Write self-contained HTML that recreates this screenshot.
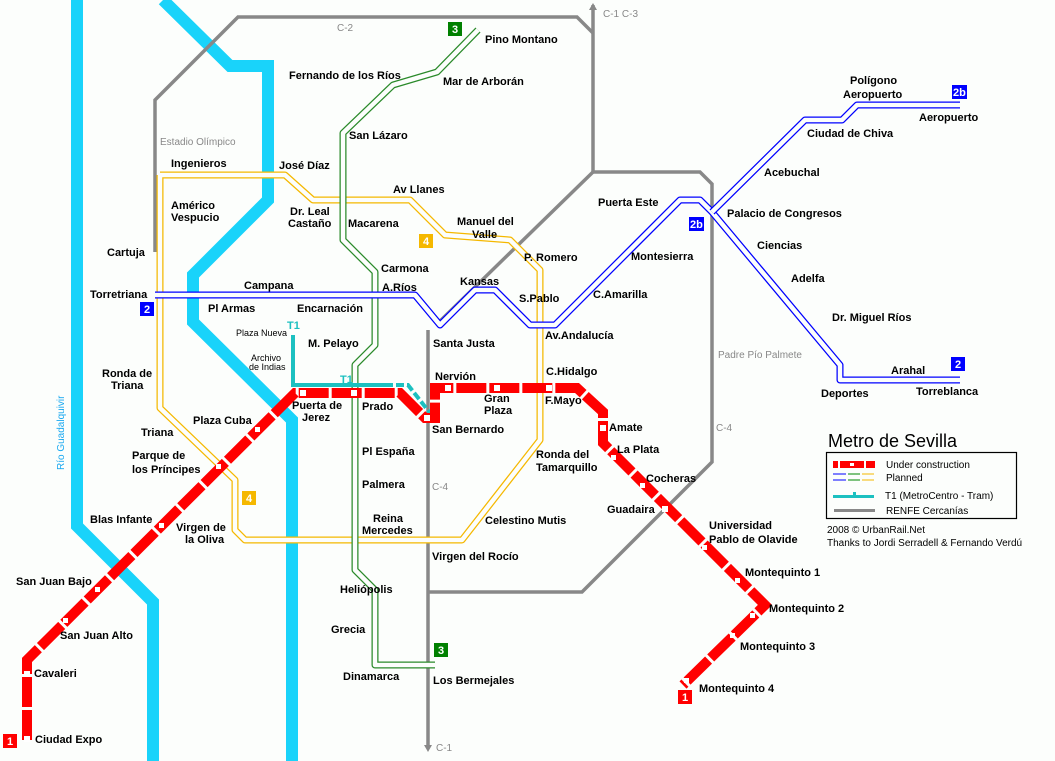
<!DOCTYPE html>
<html><head><meta charset="utf-8"><style>
html,body{margin:0;padding:0;background:#fcfefc;}
svg{display:block;}
text{font-family:"Liberation Sans",sans-serif;font-size:11px;font-weight:bold;fill:#000;}
.g{font-weight:normal;fill:#888;font-size:10px;}
.n{font-weight:normal;font-size:9px;}
.l{font-weight:normal;font-size:10px;}
.w{fill:#fff;}
</style></head><body>
<svg width="1055" height="761" viewBox="0 0 1055 761" xmlns="http://www.w3.org/2000/svg">
<rect width="1055" height="761" fill="#fcfefc"/>
<g fill="none" stroke="#19d3fa" stroke-width="12" stroke-linejoin="miter">
<polyline points="77,0 77,526 153,602 153,761"/>
<polyline points="163,0 230,66 268,66 268,200 193,275 193,322 292,420 292,761"/>
</g>
<text x="64" y="470" transform="rotate(-90 64 470)" style="font-weight:normal;fill:#19a8f0;font-size:10px">Río Guadalquivir</text>
<g fill="none" stroke="#888" stroke-width="3.5">
<polyline points="155,252 155,100 238,17 577,17 593,33"/>
<polyline points="593,5 593,172 700,172 712,184 712,462 582,592 428,592"/>
<polyline points="593,172 437,324"/>
<polyline points="428,330 428,748"/>
</g>
<path d="M593,3 l-4,7 h8z M428,752 l-4,-7 h8z" fill="#888"/>
<text class="g" x="337" y="31">C-2</text>
<text class="g" x="603" y="17">C-1   C-3</text>
<text class="g" x="160" y="145">Estadio Olímpico</text>
<text class="g" x="718" y="358">Padre Pío Palmete</text>
<text class="g" x="716" y="431">C-4</text>
<text class="g" x="432" y="490">C-4</text>
<text class="g" x="436" y="751">C-1</text>
<g fill="none" stroke-linejoin="round">
<polyline stroke="#f5b800" stroke-width="7" points="160,175 285,175 313,200 410,200 445,235 510,240 540,270 540,440 462,540 245,540 235,530 235,480 160,408 160,175"/>
<polyline stroke="#fcfefc" stroke-width="4.5" points="160,175 285,175 313,200 410,200 445,235 510,240 540,270 540,440 462,540 245,540 235,530 235,480 160,408 160,175"/>
<polyline stroke="#2a8a2a" stroke-width="7" points="478,30 437,72 393,85 343,133 343,240 375,272 375,345 355,365 355,570 375,590 375,665 435,665"/>
<polyline stroke="#fcfefc" stroke-width="4.5" points="478,30 437,72 393,85 343,133 343,240 375,272 375,345 355,365 355,570 375,590 375,665 435,665"/>
<polyline stroke="#0000ff" stroke-width="7" points="155,295 415,295 440,325 475,290 495,290 530,325 555,325 680,200 700,200 712,212 840,365 840,380 960,380"/>
<polyline stroke="#fcfefc" stroke-width="4.5" points="155,295 415,295 440,325 475,290 495,290 530,325 555,325 680,200 700,200 712,212 840,365 840,380 960,380"/>
<polyline stroke="#0000ff" stroke-width="7" points="712,212 805,120 842,120 857,105 960,105"/>
<polyline stroke="#fcfefc" stroke-width="4.5" points="712,212 805,120 842,120 857,105 960,105"/>
</g>
<g fill="none" stroke="#1cc0c0" stroke-width="4">
<polyline points="293,335 293,385 385,385"/>
<polyline points="385,385 408,385 430,413" stroke-dasharray="8,3"/>
</g>
<text x="287" y="329" style="fill:#1cc0c0">T1</text>
<text x="340" y="383" style="fill:#1cc0c0">T1</text>
<polyline fill="none" stroke="#f00" stroke-width="10" stroke-dasharray="30,3" points="27,740 27,660 295,393 400,393 425,418 435,418 435,388 577,388 603,412 603,443 765,605 683,685"/>
<g fill="#fff">
<rect x="24" y="671" width="6" height="6"/><rect x="24" y="736" width="6" height="6"/>
<rect x="300" y="390" width="6" height="6"/><rect x="351" y="390" width="6" height="6"/>
<rect x="424" y="415" width="6" height="6"/><rect x="445" y="385" width="6" height="6"/>
<rect x="494" y="385" width="6" height="6"/><rect x="546" y="385" width="6" height="6"/>
<rect x="600" y="425" width="6" height="6"/><rect x="611" y="455" width="5" height="5"/>
<rect x="640" y="483" width="5" height="5"/><rect x="662" y="506" width="6" height="6"/>
<rect x="702" y="545" width="5" height="5"/><rect x="735" y="578" width="5" height="5"/>
<rect x="750" y="613" width="5" height="5"/><rect x="730" y="633" width="5" height="5"/>
<rect x="684" y="678" width="5" height="5"/><rect x="255" y="427" width="5" height="5"/>
<rect x="216" y="464" width="5" height="5"/><rect x="159" y="523" width="5" height="5"/>
<rect x="95" y="587" width="5" height="5"/><rect x="63" y="618" width="5" height="5"/>
</g>
<text x="485" y="43">Pino Montano</text>
<text x="289" y="79">Fernando de los Ríos</text>
<text x="443" y="85">Mar de Arborán</text>
<text x="349" y="139">San Lázaro</text>
<text x="171" y="167">Ingenieros</text>
<text x="279" y="169">José Díaz</text>
<text x="393" y="193">Av Llanes</text>
<text x="171" y="209">Américo</text><text x="171" y="221">Vespucio</text>
<text x="290" y="215">Dr. Leal</text><text x="288" y="227">Castaño</text>
<text x="348" y="227">Macarena</text>
<text x="457" y="225">Manuel del</text><text x="472" y="238">Valle</text>
<text x="107" y="256">Cartuja</text>
<text x="524" y="261">P. Romero</text>
<text x="381" y="272">Carmona</text>
<text x="460" y="285">Kansas</text>
<text x="244" y="289">Campana</text>
<text x="382" y="291">A.Ríos</text>
<text x="90" y="298">Torretriana</text>
<text x="519" y="302">S.Pablo</text>
<text x="208" y="312">Pl Armas</text>
<text x="297" y="312">Encarnación</text>
<text class="n" x="236" y="336">Plaza Nueva</text>
<text x="545" y="339">Av.Andalucía</text>
<text x="433" y="347">Santa Justa</text>
<text x="308" y="347">M. Pelayo</text>
<text class="n" x="251" y="361">Archivo</text><text class="n" x="249" y="370">de Indias</text>
<text x="102" y="377">Ronda de</text><text x="111" y="389">Triana</text>
<text x="546" y="375">C.Hidalgo</text>
<text x="435" y="380">Nervión</text>
<text x="484" y="402">Gran</text><text x="484" y="414">Plaza</text>
<text x="545" y="404">F.Mayo</text>
<text x="292" y="409">Puerta de</text><text x="302" y="421">Jerez</text>
<text x="362" y="410">Prado</text>
<text x="193" y="424">Plaza Cuba</text>
<text x="609" y="431">Amate</text>
<text x="432" y="433">San Bernardo</text>
<text x="141" y="436">Triana</text>
<text x="617" y="453">La Plata</text>
<text x="362" y="455">Pl España</text>
<text x="132" y="459">Parque de</text><text x="132" y="473">los Príncipes</text>
<text x="536" y="458">Ronda del</text><text x="536" y="471">Tamarquillo</text>
<text x="646" y="482">Cocheras</text>
<text x="362" y="488">Palmera</text>
<text x="607" y="513">Guadaira</text>
<text x="90" y="523">Blas Infante</text>
<text x="176" y="531">Virgen de</text><text x="185" y="543">la Oliva</text>
<text x="373" y="522">Reina</text><text x="362" y="534">Mercedes</text>
<text x="485" y="524">Celestino Mutis</text>
<text x="709" y="529">Universidad</text><text x="709" y="543">Pablo de Olavide</text>
<text x="432" y="560">Virgen del Rocío</text>
<text x="745" y="576">Montequinto  1</text>
<text x="16" y="585">San Juan Bajo</text>
<text x="340" y="593">Heliópolis</text>
<text x="769" y="612">Montequinto  2</text>
<text x="331" y="633">Grecia</text>
<text x="60" y="639">San Juan Alto</text>
<text x="740" y="650">Montequinto  3</text>
<text x="34" y="677">Cavaleri</text>
<text x="343" y="680">Dinamarca</text>
<text x="433" y="684">Los Bermejales</text>
<text x="699" y="692">Montequinto  4</text>
<text x="35" y="743">Ciudad Expo</text>
<text x="850" y="84">Polígono</text><text x="843" y="98">Aeropuerto</text>
<text x="919" y="121">Aeropuerto</text>
<text x="807" y="137">Ciudad de Chiva</text>
<text x="764" y="176">Acebuchal</text>
<text x="598" y="206">Puerta Este</text>
<text x="727" y="217">Palacio de Congresos</text>
<text x="757" y="249">Ciencias</text>
<text x="631" y="260">Montesierra</text>
<text x="791" y="282">Adelfa</text>
<text x="593" y="298">C.Amarilla</text>
<text x="832" y="321">Dr. Miguel Ríos</text>
<text x="891" y="374">Arahal</text>
<text x="821" y="397">Deportes</text>
<text x="916" y="395">Torreblanca</text>
<rect x="448" y="22" width="14" height="14" fill="#008000"/><text class="w" x="452" y="33">3</text>
<rect x="434" y="643" width="14" height="14" fill="#008000"/><text class="w" x="438" y="654">3</text>
<rect x="419" y="234" width="14" height="14" fill="#f5b800"/><text class="w" x="423" y="245">4</text>
<rect x="242" y="491" width="14" height="14" fill="#f5b800"/><text class="w" x="246" y="502">4</text>
<rect x="140" y="302" width="14" height="14" fill="#0000ff"/><text class="w" x="144" y="313">2</text>
<rect x="951" y="357" width="14" height="14" fill="#0000ff"/><text class="w" x="955" y="368">2</text>
<rect x="952" y="85" width="15" height="14" fill="#0000ff"/><text class="w" x="953" y="96">2b</text>
<rect x="689" y="217" width="15" height="14" fill="#0000ff"/><text class="w" x="690" y="228">2b</text>
<rect x="3" y="734" width="14" height="14" fill="#f00"/><text class="w" x="7" y="745">1</text>
<rect x="678" y="690" width="14" height="14" fill="#f00"/><text class="w" x="682" y="701">1</text>
<text x="828" y="447" style="font-weight:normal;font-size:18px">Metro de Sevilla</text>
<rect x="826.5" y="452.5" width="190" height="66" fill="none" stroke="#000" stroke-width="1.2"/>
<rect x="833" y="461" width="42" height="7" fill="#f00"/>
<rect x="838" y="461" width="2" height="7" fill="#fff"/><rect x="864" y="461" width="2" height="7" fill="#fff"/><rect x="850" y="463" width="4" height="3" fill="#fff"/>
<g stroke-width="1"><line x1="833" y1="474" x2="846" y2="474" stroke="#00f"/><line x1="833" y1="480" x2="846" y2="480" stroke="#00f"/>
<line x1="848" y1="474" x2="860" y2="474" stroke="#080"/><line x1="848" y1="480" x2="860" y2="480" stroke="#080"/>
<line x1="862" y1="474" x2="874" y2="474" stroke="#f5b800"/><line x1="862" y1="480" x2="874" y2="480" stroke="#f5b800"/></g>
<rect x="833" y="495" width="41" height="3" fill="#1cc0c0"/><rect x="853" y="492" width="3" height="4" fill="#1cc0c0"/>
<rect x="834" y="509" width="41" height="3" fill="#888"/>
<text class="l" x="886" y="468">Under construction</text>
<text class="l" x="886" y="481">Planned</text>
<text class="l" x="885" y="499">T1 (MetroCentro - Tram)</text>
<text class="l" x="886" y="514">RENFE Cercanías</text>
<text class="l" x="827" y="533">2008 © UrbanRail.Net</text>
<text class="l" x="827" y="546">Thanks to Jordi Serradell &amp; Fernando Verdú</text>
</svg>
</body></html>
